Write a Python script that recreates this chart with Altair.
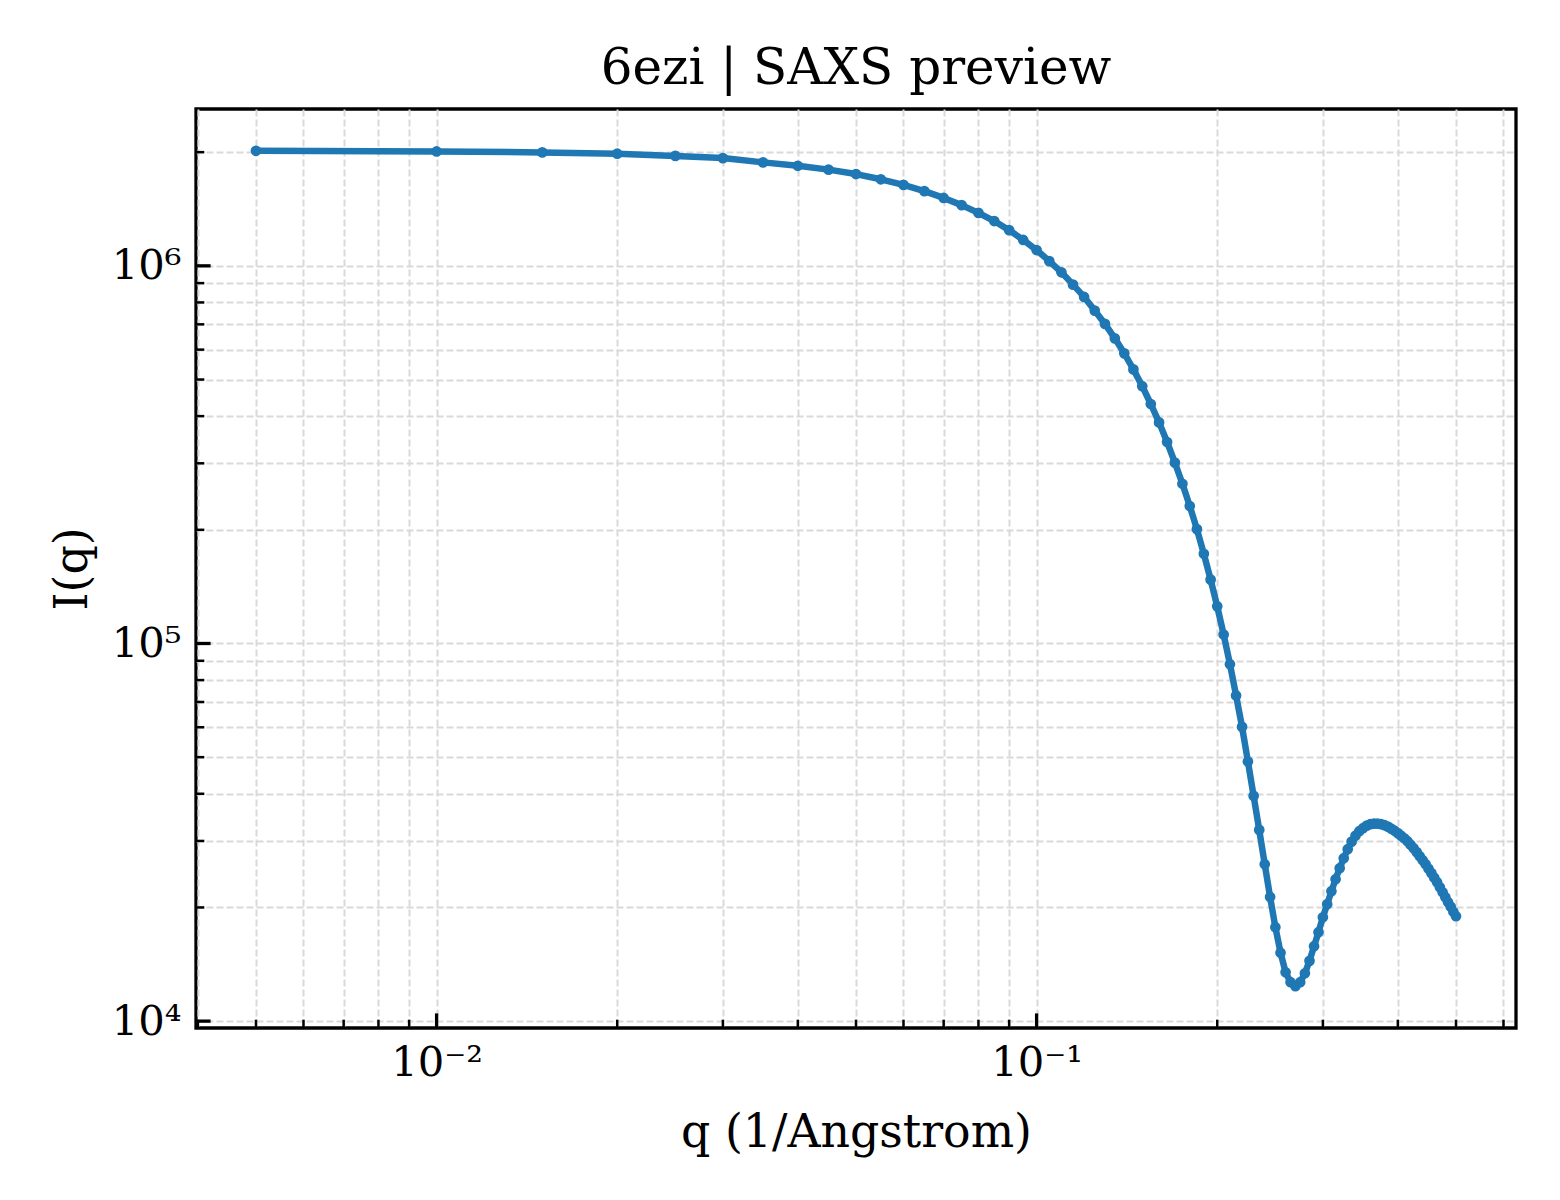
import altair as alt
import pandas as pd

# scattering vector q (1/Angstrom)
q = [
    0.005, 0.010, 0.015, 0.020, 0.025, 0.030, 0.035, 0.040, 0.045, 0.050,
    0.055, 0.060, 0.065, 0.070, 0.075, 0.080, 0.085, 0.090, 0.095, 0.100,
    0.105, 0.110, 0.115, 0.120, 0.125, 0.130, 0.135, 0.140, 0.145, 0.150,
    0.155, 0.160, 0.165, 0.170, 0.175, 0.180, 0.185, 0.190, 0.195, 0.200,
    0.205, 0.210, 0.215, 0.220, 0.225, 0.230, 0.235, 0.240, 0.245, 0.250,
    0.255, 0.260, 0.265, 0.270, 0.275, 0.280, 0.285, 0.290, 0.295, 0.300,
    0.305, 0.310, 0.315, 0.320, 0.325, 0.330, 0.335, 0.340, 0.345, 0.350,
    0.355, 0.360, 0.365, 0.370, 0.375, 0.380, 0.385, 0.390, 0.395, 0.400,
    0.405, 0.410, 0.415, 0.420, 0.425, 0.430, 0.435, 0.440, 0.445, 0.450,
    0.455, 0.460, 0.465, 0.470, 0.475, 0.480, 0.485, 0.490, 0.495, 0.500,
]

# I(q)
intensity = [
    2017000, 2009000, 1997000, 1981000, 1955000, 1929000, 1879000, 1840000, 1798000, 1750000,
    1695000, 1638000, 1577000, 1513000, 1448000, 1381000, 1314000, 1243000, 1171000, 1101000,
    1029000, 961200, 891700, 827300, 761100, 701800, 642700, 586500, 531900, 480100,
    430700, 385000, 341600, 301300, 264800, 231200, 200800, 172800, 147600, 125400,
    105600, 88140, 72830, 60130, 48700, 39480, 32090, 26030, 21320, 17730,
    15180, 13470, 12680, 12370, 12680, 13390, 14440, 15790, 17200, 18840,
    20400, 22080, 23760, 25410, 27010, 28530, 29870, 30970, 31840, 32430,
    32930, 33230, 33330, 33330, 33230, 33030, 32730, 32330, 31940, 31460,
    30970, 30500, 29950, 29320, 28700, 28020, 27340, 26680, 26030, 25330,
    24650, 23980, 23330, 22620, 21940, 21290, 20650, 20090, 19490, 18960,
]

x_major = [0.01, 0.1]
x_minor = [0.004, 0.005, 0.006, 0.007, 0.008, 0.009,
           0.02, 0.03, 0.04, 0.05, 0.06, 0.07, 0.08, 0.09,
           0.2, 0.3, 0.4, 0.5, 0.6]
y_major = [1e4, 1e5, 1e6]
y_minor = [2e4, 3e4, 4e4, 5e4, 6e4, 7e4, 8e4, 9e4,
           2e5, 3e5, 4e5, 5e5, 6e5, 7e5, 8e5, 9e5, 2e6]

W, H = 1320, 919
MAJOR_LEN, MINOR_LEN = 14.6, 8.3
BLUE = "#1f77b4"
FONT = "DejaVu Serif"

df = pd.DataFrame({"q": q, "I": intensity})

x_scale = alt.Scale(type="log", domain=[0.003972, 0.6295], nice=False)
y_scale = alt.Scale(type="log", domain=[9590, 2.602e6], nice=False)

x_axis = alt.Axis(
    values=sorted(x_major + x_minor),
    labelExpr="datum.value == 0.01 ? '10⁻²' : datum.value == 0.1 ? '10⁻¹' : ''",
    ticks=False, domain=False, grid=True,
    labelOverlap=False, labelFlush=False, labelPadding=14.4,
    title="q (1/Angstrom)", titleX=W / 2, titleY=118,
    titleBaseline="alphabetic", titleAlign="center",
)
y_axis = alt.Axis(
    values=sorted(y_major + y_minor),
    labelExpr="datum.value == 10000 ? '10⁴' : datum.value == 100000 ? '10⁵' : datum.value == 1000000 ? '10⁶' : ''",
    ticks=False, domain=False, grid=True,
    labelOverlap=False, labelFlush=False, labelPadding=15,
    title="I(q)", titleX=-124, titleY=H / 2, titleAngle=270,
    titleBaseline="middle", titleAlign="center",
)

x_enc = alt.X("q:Q", scale=x_scale, axis=x_axis)
y_enc = alt.Y("I:Q", scale=y_scale, axis=y_axis)

base = alt.Chart(df).encode(x=x_enc, y=y_enc)
line = base.mark_line(color=BLUE, strokeWidth=6.5, strokeJoin="round", strokeCap="round")
points = base.mark_circle(color=BLUE, size=115, opacity=1)


def y_ticks(vals, length, width):
    return (
        alt.Chart(pd.DataFrame({"I": vals}))
        .mark_rule(color="black", strokeWidth=width)
        .encode(y=y_enc, x=alt.value(0), x2=alt.value(length))
    )


def x_ticks(vals, length, width):
    return (
        alt.Chart(pd.DataFrame({"q": vals}))
        .mark_rule(color="black", strokeWidth=width)
        .encode(x=x_enc, y=alt.value(H), y2=alt.value(H - length))
    )


chart = (
    alt.layer(
        line, points,
        y_ticks(y_major, MAJOR_LEN, 3.3), y_ticks(y_minor, MINOR_LEN, 2.5),
        x_ticks(x_major, MAJOR_LEN, 3.3), x_ticks(x_minor, MINOR_LEN, 2.5),
    )
    .properties(
        width=W,
        height=H,
        title=alt.TitleParams(
            "6ezi | SAXS preview", font=FONT, fontSize=50, fontWeight="normal",
            color="black", anchor="middle", frame="group",
            baseline="alphabetic", offset=22, dy=47,
        ),
        autosize=alt.AutoSizeParams(type="none"),
        padding={"left": 188, "top": 101, "right": 34, "bottom": 160},
        background="white",
    )
    .configure_view(stroke="black", strokeWidth=3.3)
    .configure_axis(
        labelFont=FONT, labelFontSize=41.7, labelColor="black",
        titleFont=FONT, titleFontSize=45.8, titleFontWeight="normal", titleColor="black",
        gridColor="#d9d9d9", gridWidth=2, gridDash=[7, 3],
    )
)

chart.save("out.html", embed_options={"renderer": "svg", "actions": False})
